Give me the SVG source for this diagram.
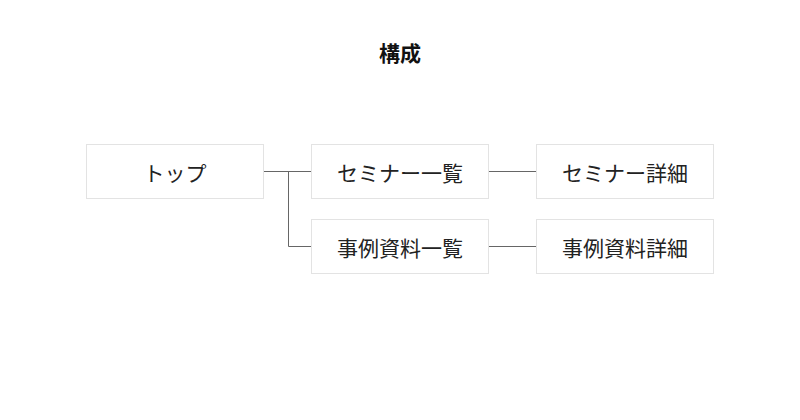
<svg xmlns="http://www.w3.org/2000/svg" width="800" height="420" viewBox="0 0 800 420">
<style>
.box{fill:#fff;stroke:#e3e3e3;stroke-width:1}
.lbl{font-family:"Noto Sans CJK JP","Noto Sans",sans-serif;font-size:21px;fill:#222;text-anchor:middle;dominant-baseline:central}
.title{font-family:"Noto Sans CJK JP","Noto Sans",sans-serif;font-size:21px;font-weight:bold;fill:#111;text-anchor:middle;dominant-baseline:central}
.conn{fill:none;stroke:#666;stroke-width:1}
</style>
<rect width="800" height="420" fill="#fff"/>
<text class="title" x="400" y="52">構成</text>
<g id="connectors">
<path class="conn" d="M263.5 171.5H311"/>
<path class="conn" d="M288.5 171.5V246.5H311"/>
<path class="conn" d="M488.5 171.5H536"/>
<path class="conn" d="M488.5 246.5H536"/>
</g>
<g id="top"><rect class="box" x="86.5" y="144.5" width="177" height="54"/><text class="lbl" x="175" y="171.5">トップ</text></g>
<g id="seminar-list"><rect class="box" x="311.5" y="144.5" width="177" height="54"/><text class="lbl" x="400" y="171.5">セミナー一覧</text></g>
<g id="seminar-detail"><rect class="box" x="536.5" y="144.5" width="177" height="54"/><text class="lbl" x="625" y="171.5">セミナー詳細</text></g>
<g id="case-list"><rect class="box" x="311.5" y="219.5" width="177" height="54"/><text class="lbl" x="400" y="246.5">事例資料一覧</text></g>
<g id="case-detail"><rect class="box" x="536.5" y="219.5" width="177" height="54"/><text class="lbl" x="625" y="246.5">事例資料詳細</text></g>
</svg>
